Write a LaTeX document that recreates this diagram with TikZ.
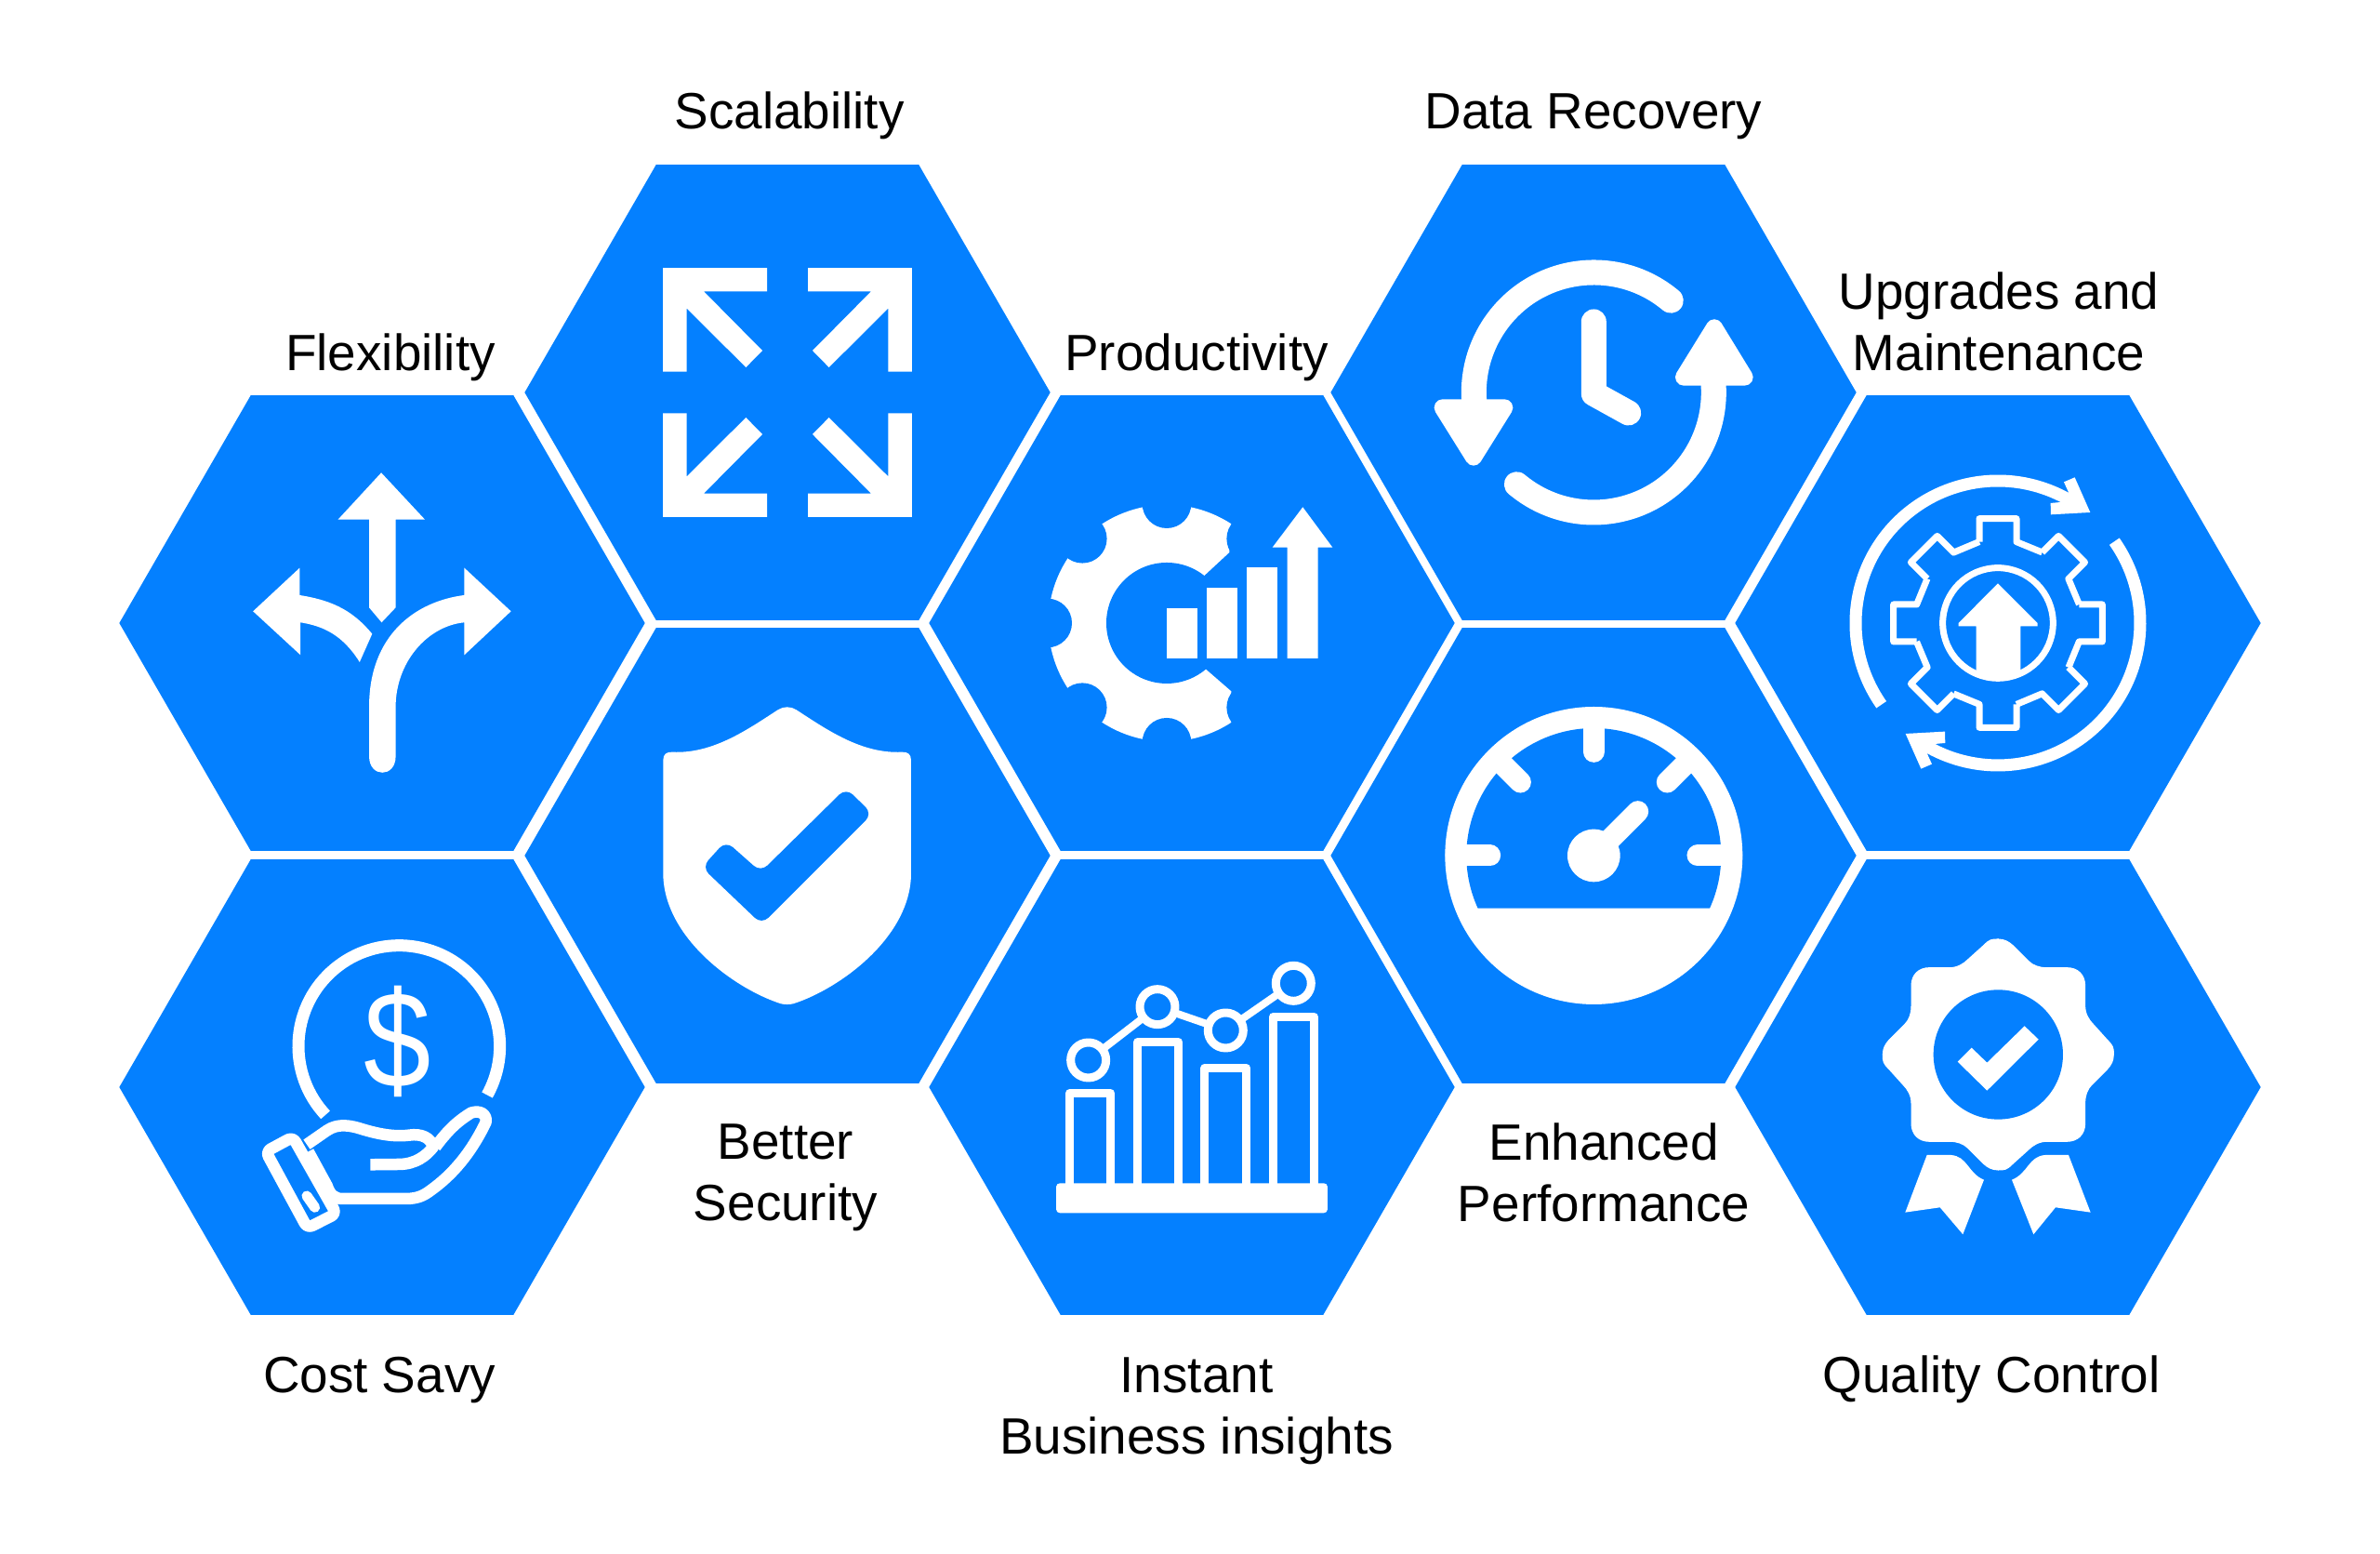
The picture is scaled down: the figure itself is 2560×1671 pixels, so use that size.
\documentclass[tikz,border=0pt]{standalone}
\usepackage{fontspec}
\setmainfont{Liberation Sans}
\usepackage{xcolor}
\usetikzlibrary{shapes.geometric}
\definecolor{hexblue}{HTML}{0480FF}
\tikzset{
    hexcell/.style={regular polygon,regular polygon sides=6,minimum size=5.65cm,inner sep=0pt,fill=hexblue},
    hexlabel/.style={align=center,text=black,inner sep=0pt,font=\fontsize{15.6}{18.8}\selectfont},
    iconat/.style={shift={(#1)},scale=0.3333},
    iconline/.style={draw=white,line width=#1,line join=round}
}

\begin{document}
\begin{tikzpicture}[x=0.01cm,y=-0.01cm]
    \useasboundingbox (0,0) rectangle (2560,1671);

    % Hexagons
    \node[hexcell] (flex) at (411,670) {};
    \node[hexcell] (cost) at (411,1169) {};
    \node[hexcell] (scal) at (847,422) {};
    \node[hexcell] (secu) at (847,920) {};
    \node[hexcell] (prod) at (1282,670) {};
    \node[hexcell] (insi) at (1282,1169) {};
    \node[hexcell] (reco) at (1714,422) {};
    \node[hexcell] (perf) at (1714,920) {};
    \node[hexcell] (upgr) at (2149,670) {};
    \node[hexcell] (qual) at (2149,1169) {};

    % Labels
    \node[hexlabel] (lblscal) at (849,124) {Scalability};
    \node[hexlabel] (lblreco) at (1714,125) {Data Recovery};
    \node[hexlabel] (lblflex) at (420,384) {Flexibility};
    \node[hexlabel] (lblprod) at (1287,384) {Productivity};
    \node[hexlabel] (lblupgr) at (2150,346) {Upgrades and\\Maintenance};
    \node[hexlabel] (lblsecu) at (845,1266) {Better\\Security};
    \node[hexlabel] (lblperf) at (1725,1261) {Enhanced\\Performance};
    \node[hexlabel] (lblcost) at (408,1484) {Cost Savy};
    \node[hexlabel] (lblinsi) at (1287,1517) {Instant\\Business insights};
    \node[hexlabel] (lblqual) at (2142,1483) {Quality Control};

    % Flexibility icon
    \begin{scope}[shift={(120,420)},xscale=0.408,yscale=0.3333]
        \fill[white] (711,265) -- (826,416) -- (749,416) -- (749,700) -- (712,748) -- (679,700) -- (679,416) -- (597,416) -- cycle;
        \fill[white] (373,712) -- (496,572) -- (496,660) .. controls (570,675) and (630,700) .. (687,785) -- (654,876) .. controls (610,790) and (560,760) .. (498,748) -- (498,853) -- cycle;
        \fill[white] (1053,712) -- (930,572) -- (930,660) .. controls (800,680) and (679,790) .. (679,1020) -- (679,1180) .. controls (679,1250) and (749,1250) .. (749,1180) -- (749,1020) .. controls (749,880) and (830,760) .. (930,748) -- (930,853) -- cycle;
    \end{scope}

    % Cost icon
    \begin{scope}[iconat={220,980}]
        \draw[iconline=1.3mm] (628,435) ++(137:325) arc[start angle=137,end angle=389,radius=325];
        \node[white,inner sep=0pt,xscale=0.88,font=\fontsize{42}{42}\selectfont] (dollar) at (622,420) {\$};
        \draw[iconline=1.25mm,rounded corners=0.6mm] (198,775) -- (285,728) -- (425,975) -- (332,1022) -- cycle;
        \draw[iconline=1.1mm,line cap=round] (330,918) -- (356,955);
        \draw[iconline=1.25mm] (330,752) -- (395,707) .. controls (430,683) and (470,690) .. (510,703) .. controls (560,718) and (610,728) .. (660,722) .. controls (700,716) and (730,730) .. (738,760) .. controls (715,790) and (680,815) .. (630,816) -- (535,817);
        \draw[iconline=1.25mm] (335,775) -- (395,885) .. controls (405,915) and (420,927) .. (445,927) -- (650,927) .. controls (690,927) and (710,915) .. (730,900) .. controls (800,850) and (860,780) .. (908,680) .. controls (912,655) and (890,640) .. (860,650) .. controls (820,675) and (790,700) .. (745,760);
    \end{scope}

    % Scalability icon
    \foreach \sx/\sy in {1/1,-1/1,1/-1,-1/-1} {
        \fill[white,shift={(847,422)},xscale=\sx,yscale=\sy,scale=0.3333] (-402,-402) -- (-66,-402) -- (-66,-326) -- (-270,-326) -- (-81,-135) -- (-134,-81) -- (-325,-271) -- (-325,-67) -- (-402,-67) -- cycle;
    }

    % Security icon
    \begin{scope}[iconat={690,740}]
        \fill[white] (70,232) .. controls (70,212) and (82,205) .. (100,206) .. controls (230,212) and (340,135) .. (440,70) .. controls (458,58) and (482,58) .. (500,70) .. controls (600,135) and (710,212) .. (840,206) .. controls (858,205) and (870,212) .. (870,232) -- (870,590) .. controls (875,800) and (640,970) .. (490,1018) .. controls (478,1021) and (462,1021) .. (450,1018) .. controls (300,970) and (65,800) .. (70,590) -- cycle;
        \fill[hexblue,rounded corners=1mm] (385,593) -- (660,322) -- (745,405) -- (388,762) -- (195,578) -- (272,493) -- cycle;
    \end{scope}

    % Productivity icon
    \begin{scope}[iconat={1090,510}]
        \fill[white] (703,160) arc[start angle=-57,end angle=-303,radius=382] -- (703,700) -- (620,628) -- (495,480) -- (615,328) -- (697,252) -- cycle;
        \fill[hexblue] (495,480) circle (195);
        \foreach \a in {45,90,...,315} {
            \fill[hexblue] (495,480) ++(\a:385) circle (79);
        }
        \fill[white] (494,431) rectangle (593,594);
        \fill[white] (624,366) rectangle (722,594);
        \fill[white] (754,301) rectangle (852,594);
        \fill[white] (884,594) -- (884,236) -- (836,236) -- (934,106) -- (1030,236) -- (983,236) -- (983,594) -- cycle;
    \end{scope}

    % Insights icon
    \begin{scope}[iconat={1100,1010}]
        \foreach \l/\r/\t in {152/284/497,371/503/332,588/722/415,808/940/250} {
            \draw[iconline=0.9mm] (\l,800) -- (\l,\t) -- (\r,\t) -- (\r,800);
        }
        \fill[white,rounded corners=0.4mm] (108,787) rectangle (984,883);
        \draw[iconline=0.8mm] (212,390) -- (435,218) -- (655,294) -- (874,142);
        \foreach \x/\y in {212/390,435/218,655/294,874/142} {
            \draw[iconline=0.9mm,fill=hexblue] (\x,\y) circle (57);
        }
    \end{scope}

    % Recovery icon
    \begin{scope}[iconat={1530,270}]
        \draw[iconline=2.7mm,line cap=round] (553,456) ++(310:387) arc[start angle=310,end angle=176,radius=387];
        \draw[iconline=2.7mm,line cap=round] (553,456) ++(130:387) arc[start angle=130,end angle=-4,radius=387];
        \draw[iconline=1.8mm,fill=white] (65,505) -- (265,505) -- (165,665) -- cycle;
        \draw[iconline=1.8mm,fill=white] (843,407) -- (1040,407) -- (942,247) -- cycle;
        \draw[iconline=2.7mm,line cap=round] (553,228) -- (553,460) -- (665,522);
    \end{scope}

    % Performance icon
    \begin{scope}[iconat={1530,750}]
        \fill[white] (553,510) circle (480);
        \fill[hexblue] (553,510) ++(155.6:411) arc[start angle=155.6,end angle=384.4,radius=411] -- cycle;
        \foreach \a in {180,225,270,315,360} {
            \draw[iconline=2.3mm,line cap=round] (553,510) ++(\a:445) -- ++(\a+180:110);
        }
        \fill[white] (553,510) circle (85);
        \draw[iconline=2.3mm,line cap=round] (553,510) -- (695,368);
    \end{scope}

    % Upgrades icon
    \begin{scope}[iconat={1960,490}]
        \draw[iconline=1.3mm] (567,540) ++(145:459) arc[start angle=145,end angle=298.5,radius=459];
        \draw[iconline=1.3mm] (567,540) ++(325:459) arc[start angle=325,end angle=478.7,radius=459];
        \fill[white] (780,85) -- (815,70) -- (865,183) -- (738,190) -- (737,153) -- (770,150) -- (795,118) -- cycle;
        \fill[white] (354,995) -- (319,1010) -- (269,897) -- (396,890) -- (397,927) -- (364,930) -- (339,962) -- cycle;
        \foreach \a in {0,45,...,315} {
            \draw[iconline=0.7mm,rotate around={\a:(567,540)}] (507,278) -- (507,203) -- (627,203) -- (627,278) -- (710,312);
        }
        \draw[iconline=0.7mm] (567,540) circle (178);
        \fill[white] (567,412) -- (695,540) -- (695,550) -- (640,550) -- (640,695) -- (567,720) -- (497,695) -- (497,550) -- (440,550) -- (440,540) -- cycle;
    \end{scope}

    % Quality icon
    \begin{scope}[iconat={1990,990}]
        \foreach \a in {0,90,180,270} {
            \fill[white,draw=white,line width=0.1mm,rotate around={\a:(478,432)}] (478,432) -- (478,60) .. controls (498,60) and (512,68) .. (525,80) -- (575,130) .. controls (590,145) and (610,152) .. (635,152) -- (700,152) .. controls (735,152) and (758,175) .. (758,210) -- (758,275) .. controls (758,300) and (770,320) .. (785,335) -- (830,385) .. controls (850,405) and (850,410) .. (850,432) -- cycle;
        }
        \fill[hexblue] (478,432) circle (209);
        \fill[white] (347,455) -- (392,410) -- (442,458) -- (563,340) -- (608,383) -- (442,548) -- cycle;
        \fill[white] (248,756) -- (325,756) .. controls (380,760) and (380,815) .. (432,836) -- (364,1012) -- (290,925) -- (178,941) -- cycle;
        \fill[white] (705,756) -- (630,756) .. controls (575,760) and (575,815) .. (522,836) -- (592,1012) -- (663,925) -- (776,941) -- cycle;
    \end{scope}
\end{tikzpicture}
\end{document}
